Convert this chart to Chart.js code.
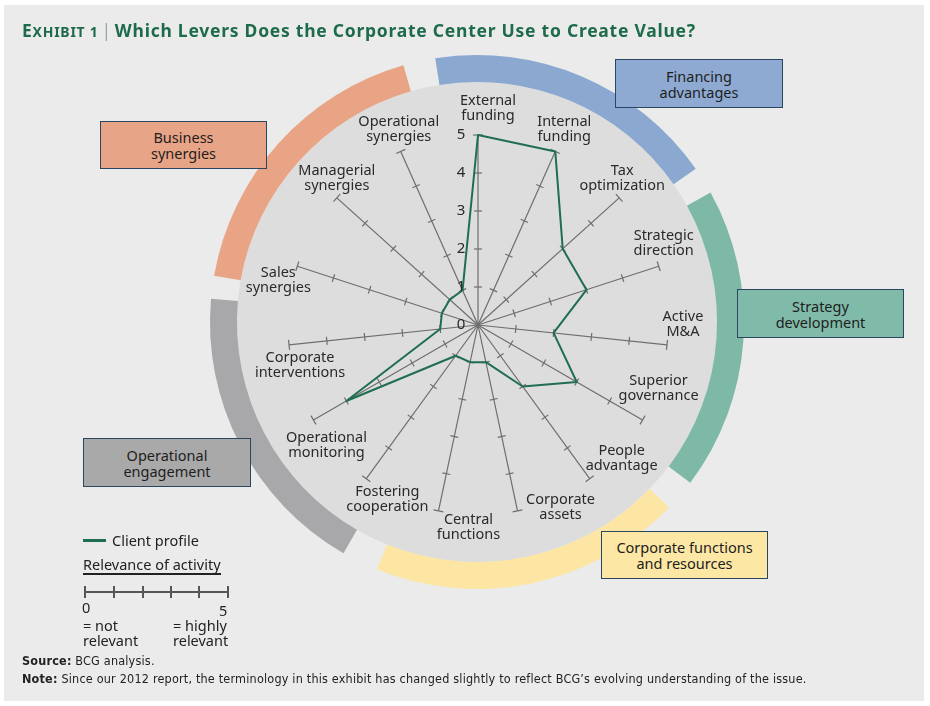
<!DOCTYPE html>
<html>
<head>
<meta charset="utf-8">
<script src="https://cdn.jsdelivr.net/npm/chart.js@4.4.1/dist/chart.umd.min.js"></script>
<style>
  body { margin: 0; width: 930px; height: 706px; overflow: hidden; background: #fff; font-family: "Noto Sans", sans-serif; color: #222; }
  #panel { position: absolute; left: 4px; top: 5px; width: 920px; height: 696px; background: #ebebeb; }
  #chart { position: absolute; left: 0; top: 0; }
  .title { position: absolute; left: 22px; top: 18px; color: #1d6b4b; font-weight: 700; font-size: 17.5px; letter-spacing: 0.75px; white-space: nowrap; }
  .title .sc { font-size: 14px; }
  .title .bar { font-weight: 300; color: #6c8c7c; padding: 0 3px; }
  .box { position: absolute; box-sizing: border-box; border: 1.5px solid #2a4660; display: flex; align-items: center; justify-content: center; text-align: center; font-size: 14.5px; line-height: 16px; color: #1e1e1e; }
  .txt { position: absolute; font-size: 14.5px; line-height: 15px; white-space: nowrap; color: #222; }
  .note { position: absolute; left: 22px; font-family: "Liberation Sans Narrow", "DejaVu Sans Condensed", sans-serif; font-size: 12.5px; letter-spacing: 0.2px; white-space: nowrap; color: #222; }
  .note b { font-weight: 700; }
</style>
</head>
<body>
<div id="panel"></div>
<canvas id="chart" width="930" height="706"></canvas>

<div class="title"><span>E</span><span class="sc">XHIBIT 1</span><span class="bar">|</span>Which Levers Does the Corporate Center Use to Create Value?</div>

<div class="box" style="left:615px;top:59px;width:168px;height:49px;background:#8eaad2;">Financing<br>advantages</div>
<div class="box" style="left:100px;top:121px;width:167px;height:48px;background:#e8a486;">Business<br>synergies</div>
<div class="box" style="left:737px;top:289px;width:167px;height:49px;background:#80baa8;">Strategy<br>development</div>
<div class="box" style="left:83px;top:438px;width:168px;height:49px;background:#a9a9aa;">Operational<br>engagement</div>
<div class="box" style="left:601px;top:531px;width:167px;height:48px;background:#fde7a5;">Corporate functions<br>and resources</div>

<!-- legend -->
<div style="position:absolute;left:83px;top:539px;width:23px;height:3px;background:#1f6e50;"></div>
<div class="txt" style="left:112px;top:533px;">Client profile</div>
<div class="txt" style="left:83px;top:557px;padding-bottom:1px;border-bottom:2.5px solid #222;">Relevance of activity</div>
<div style="position:absolute;left:84px;top:591px;width:144px;height:1.5px;background:#555;"></div>
<div style="position:absolute;left:84px;top:586px;width:1.5px;height:12px;background:#555;"></div>
<div style="position:absolute;left:113px;top:586px;width:1.5px;height:12px;background:#555;"></div>
<div style="position:absolute;left:142px;top:586px;width:1.5px;height:12px;background:#555;"></div>
<div style="position:absolute;left:170px;top:586px;width:1.5px;height:12px;background:#555;"></div>
<div style="position:absolute;left:198px;top:586px;width:1.5px;height:12px;background:#555;"></div>
<div style="position:absolute;left:227px;top:586px;width:1.5px;height:12px;background:#555;"></div>
<div class="txt" style="left:82px;top:600px;">0</div>
<div class="txt" style="left:219px;top:603px;">5</div>
<div class="txt" style="left:83px;top:618px;">= not<br>relevant</div>
<div class="txt" style="left:173px;top:618px;">= highly<br>relevant</div>

<div class="note" style="top:653px;"><b>Source:</b> BCG analysis.</div>
<div class="note" style="top:671px;"><b>Note:</b> Since our 2012 report, the terminology in this exhibit has changed slightly to reflect BCG’s evolving understanding of the issue.</div>

<script>
// levers of the corporate center, clockwise from the top
const levers = [
  ['External', 'funding'], ['Internal', 'funding'], ['Tax', 'optimization'],
  ['Strategic', 'direction'], ['Active', 'M&A'], ['Superior', 'governance'],
  ['People', 'advantage'], ['Corporate', 'assets'], ['Central', 'functions'],
  ['Fostering', 'cooperation'], ['Operational', 'monitoring'], ['Corporate', 'interventions'],
  ['Sales', 'synergies'], ['Managerial', 'synergies'], ['Operational', 'synergies']
];
const clientProfile = [5, 5, 3, 3, 2, 3, 2, 1, 1, 1, 4, 1, 1, 1, 1];
const tickValues = [0, 1, 2, 3, 4, 5];

// label nudges from each axis end (hand placed in the exhibit)
const labelNudge = [
  [10, -27], [9, -22], [3, -19], [5, -23], [16, -20], [16, -32], [32, -20], [43, -3],
  [30, 17], [21, 21], [13, 25], [11, 21], [-19, 14], [0, -19], [-2, -22]
];

// group arcs around the wheel, degrees clockwise from 12 o'clock
const groupArcs = [
  { from: -9, to: 55, color: '#8aa8d0' },
  { from: 61, to: 127, color: '#7db9a6' },
  { from: 134, to: 202, color: '#fde6a3' },
  { from: 210, to: 275, color: '#a8a8aa' },
  { from: 280, to: 344, color: '#e8a484' }
];

const rad = d => (d - 90) * Math.PI / 180;

const wheel = {
  id: 'wheel',
  beforeDraw(chart) {
    const s = chart.scales.r;
    const c = chart.ctx;
    const cx = s.xCenter - 1, cy = s.yCenter - 3;
    c.save();
    c.fillStyle = '#dddddd';
    c.beginPath();
    c.arc(cx, cy, 240, 0, Math.PI * 2);
    c.fill();
    groupArcs.forEach(a => {
      c.fillStyle = a.color;
      c.beginPath();
      c.arc(cx, cy, 267, rad(a.from), rad(a.to));
      c.arc(cx, cy, 240, rad(a.to), rad(a.from), true);
      c.closePath();
      c.fill();
    });
    c.restore();
  },
  beforeDatasetsDraw(chart) {
    const s = chart.scales.r;
    const c = chart.ctx;
    c.save();
    c.strokeStyle = '#6e6e6e';
    c.lineWidth = 1.2;
    levers.forEach((l, i) => {
      tickValues.slice(1).forEach(v => {
        const p = s.getPointPositionForValue(i, v);
        const half = v === 5 ? 5 : 4;
        const px = -Math.sin(p.angle) * half, py = Math.cos(p.angle) * half;
        c.beginPath();
        c.moveTo(p.x - px, p.y - py);
        c.lineTo(p.x + px, p.y + py);
        c.stroke();
      });
    });
    c.restore();
  },
  afterDraw(chart) {
    const s = chart.scales.r;
    const c = chart.ctx;
    c.save();
    c.fillStyle = '#2a2a2a';
    c.textAlign = 'center';
    c.textBaseline = 'middle';
    c.font = '15px "Noto Sans"';
    tickValues.forEach(v => {
      const p = s.getPointPositionForValue(0, v);
      c.fillText(String(v), p.x - 17, p.y);
    });
    c.font = '14.5px "Noto Sans"';
    levers.forEach((lines, i) => {
      const p = s.getPointPositionForValue(i, 5);
      const x = p.x + labelNudge[i][0];
      const y = p.y + labelNudge[i][1];
      lines.forEach((t, k) => c.fillText(t, x, y + (k - (lines.length - 1) / 2) * 15));
    });
    c.restore();
  }
};

new Chart(document.getElementById('chart'), {
  type: 'radar',
  data: {
    labels: levers,
    datasets: [{
      label: 'Client profile',
      data: clientProfile,
      borderColor: '#1f6e50',
      borderWidth: 2,
      borderJoinStyle: 'round',
      fill: false,
      pointRadius: 0,
      tension: 0
    }]
  },
  options: {
    responsive: false,
    animation: false,
    layout: { padding: { left: 288, right: 262, top: 135, bottom: 191 } },
    plugins: { legend: { display: false }, tooltip: { enabled: false } },
    scales: {
      r: {
        min: 0,
        max: 5,
        ticks: { display: false, stepSize: 1 },
        grid: { display: false },
        angleLines: { color: '#6e6e6e', lineWidth: 1.2 },
        pointLabels: { display: false }
      }
    }
  },
  plugins: [wheel]
});
</script>
</body>
</html>
